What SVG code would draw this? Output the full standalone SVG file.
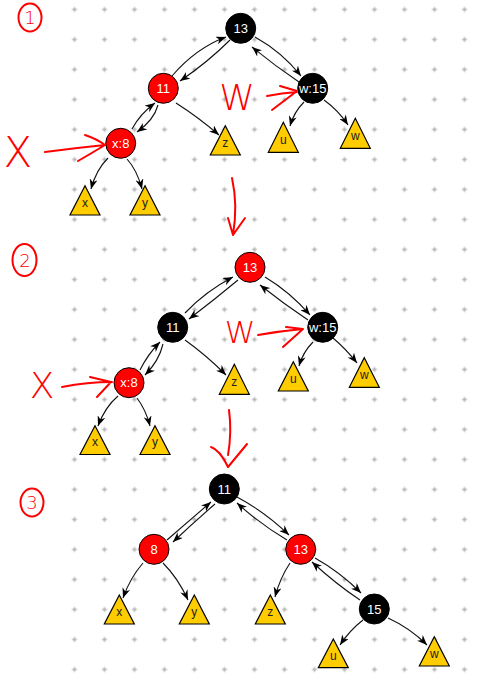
<svg xmlns="http://www.w3.org/2000/svg" width="490" height="688" viewBox="0 0 490 688">
<style>
.edge{fill:none;stroke:#111;stroke-width:1.1;marker-end:url(#ah)}
.rb{fill:#FF0000;stroke:#000;stroke-width:1}
.bk{fill:#000;stroke:#000;stroke-width:1}
.tri{fill:#FFCC00;stroke:#000;stroke-width:1.2}
.nl{font-family:"Liberation Sans",Arial,sans-serif;font-size:13px;fill:#fff;text-anchor:middle}
.tl{font-family:"Liberation Sans",Arial,sans-serif;font-size:12px;fill:#222;text-anchor:middle}
.hw{fill:none;stroke:#FF0000;stroke-width:2;stroke-linecap:round;stroke-linejoin:round}
.ht{font-family:"DejaVu Sans","Liberation Sans",sans-serif;font-weight:200;fill:#FF0000;text-anchor:middle}
</style>
<defs>
<pattern id="grid" x="59.5" y="-5.5" width="30" height="30" patternUnits="userSpaceOnUse">
<path d="M12.5,15 H17.5 M15,12.5 V17.5" stroke="#999" stroke-width="1"/>
</pattern>
<marker id="ah" viewBox="0 0 10 8" refX="10" refY="4" markerWidth="10" markerHeight="8" markerUnits="userSpaceOnUse" orient="auto">
<path d="M0,0 L10,4 L0,8 L3,4 z" fill="#000"/>
</marker>
</defs>
<rect width="490" height="688" fill="#fff"/>
<rect x="59.5" y="-5.5" width="420" height="690" fill="url(#grid)"/>

<g id="connectors">
<!-- diagram 1 -->
<path class="edge" d="M172,76 Q196,48 226,37"/>
<path class="edge" d="M230,40 Q208,62 180,81"/>
<path class="edge" d="M132,129 Q140,114 155,103"/>
<path class="edge" d="M158,105 Q154,120 137,132"/>
<path class="edge" d="M176,103 Q198,117 219,135"/>
<path class="edge" d="M108,158 Q96,170 91,189"/>
<path class="edge" d="M127,159 Q137,170 142,189"/>
<path class="edge" d="M255,37 Q282,52 301,76"/>
<path class="edge" d="M299,82 Q275,66 252,47"/>
<path class="edge" d="M304,102 Q294,112 290,126"/>
<path class="edge" d="M324,100 Q338,110 348,125"/>
<!-- diagram 2 -->
<path class="edge" d="M185,313 Q206,291 233,277"/>
<path class="edge" d="M238,280 Q214,300 189,319"/>
<path class="edge" d="M140,370 Q148,354 160,342"/>
<path class="edge" d="M163,344 Q159,361 145,375"/>
<path class="edge" d="M185,340 Q206,355 226,375"/>
<path class="edge" d="M118,396 Q105,407 98,426"/>
<path class="edge" d="M137,398 Q146,410 150,426"/>
<path class="edge" d="M265,277 Q290,292 310,315"/>
<path class="edge" d="M308,320 Q284,304 260,285"/>
<path class="edge" d="M313,342 Q303,352 299,366"/>
<path class="edge" d="M333,338 Q346,349 357,363"/>
<!-- diagram 3 -->
<path class="edge" d="M167,540 Q190,520 211,502"/>
<path class="edge" d="M215,504 Q193,523 173,542"/>
<path class="edge" d="M143,563 Q130,578 123,598"/>
<path class="edge" d="M163,563 Q178,578 188,600"/>
<path class="edge" d="M237,497 Q265,512 289,535"/>
<path class="edge" d="M287,540 Q260,524 237,503"/>
<path class="edge" d="M290,563 Q280,578 275,597"/>
<path class="edge" d="M315,558 Q340,572 361,593"/>
<path class="edge" d="M360,600 Q336,584 312,562"/>
<path class="edge" d="M363,620 Q350,630 340,645"/>
<path class="edge" d="M388,618 Q410,628 427,645"/>
</g>

<!-- diagram 1 nodes -->
<g id="d1-n13"><circle class="bk" cx="240.7" cy="28.3" r="15"/><text class="nl" x="240.7" y="33">13</text></g>
<g id="d1-n11"><circle class="rb" cx="163.3" cy="88.3" r="15"/><text class="nl" x="163.3" y="93">11</text></g>
<g id="d1-x8"><circle class="rb" cx="120.7" cy="143.3" r="15"/><text class="nl" x="120.7" y="148">x:8</text></g>
<g id="d1-w15"><circle class="bk" cx="312.7" cy="88.3" r="15"/><text class="nl" x="312.7" y="93">w:15</text></g>
<g id="d1-tz"><polygon class="tri" points="225.3,125.7 240.3,155 210.3,155"/><text class="tl" x="225.3" y="147">z</text></g>
<g id="d1-tx"><polygon class="tri" points="85,185.7 100,215 70,215"/><text class="tl" x="85" y="207">x</text></g>
<g id="d1-ty"><polygon class="tri" points="145,185.7 160,215 130,215"/><text class="tl" x="145" y="207">y</text></g>
<g id="d1-tu"><polygon class="tri" points="283.3,122.3 298.3,152.3 268.3,152.3"/><text class="tl" x="283.3" y="144">u</text></g>
<g id="d1-tw"><polygon class="tri" points="355.3,118.3 370.3,148.3 340.3,148.3"/><text class="tl" x="355.3" y="140">w</text></g>

<!-- diagram 2 nodes -->
<g id="d2-n13"><circle class="rb" cx="250" cy="267.3" r="15"/><text class="nl" x="250" y="272">13</text></g>
<g id="d2-n11"><circle class="bk" cx="172.7" cy="327.3" r="15"/><text class="nl" x="172.7" y="332">11</text></g>
<g id="d2-x8"><circle class="rb" cx="129" cy="382.7" r="15"/><text class="nl" x="129" y="387.4">x:8</text></g>
<g id="d2-w15"><circle class="bk" cx="322.7" cy="327.3" r="15"/><text class="nl" x="322.7" y="332">w:15</text></g>
<g id="d2-tz"><polygon class="tri" points="234.3,364.3 249.3,394.3 219.3,394.3"/><text class="tl" x="234.3" y="386">z</text></g>
<g id="d2-tx"><polygon class="tri" points="95,425.7 110,454.5 80,454.5"/><text class="tl" x="95" y="446">x</text></g>
<g id="d2-ty"><polygon class="tri" points="155,425.7 170,454.5 140,454.5"/><text class="tl" x="155" y="446">y</text></g>
<g id="d2-tu"><polygon class="tri" points="293.3,361.7 308.3,391 278.3,391"/><text class="tl" x="293.3" y="383">u</text></g>
<g id="d2-tw"><polygon class="tri" points="364.3,357.7 379.3,387.3 349.3,387.3"/><text class="tl" x="364.3" y="379">w</text></g>

<!-- diagram 3 nodes -->
<g id="d3-n11"><circle class="bk" cx="224.3" cy="489" r="15"/><text class="nl" x="224.3" y="493.7">11</text></g>
<g id="d3-n8"><circle class="rb" cx="154" cy="549.3" r="15"/><text class="nl" x="154" y="554">8</text></g>
<g id="d3-n13"><circle class="rb" cx="300.7" cy="549.3" r="15"/><text class="nl" x="300.7" y="554">13</text></g>
<g id="d3-n15"><circle class="bk" cx="374.3" cy="609" r="15"/><text class="nl" x="374.3" y="613.7">15</text></g>
<g id="d3-tx"><polygon class="tri" points="119.3,595 134.3,624 104.3,624"/><text class="tl" x="119.3" y="615.5">x</text></g>
<g id="d3-ty"><polygon class="tri" points="194.3,595 209.3,624 179.3,624"/><text class="tl" x="194.3" y="615.5">y</text></g>
<g id="d3-tz"><polygon class="tri" points="270.3,595 285.3,624 255.3,624"/><text class="tl" x="270.3" y="615.5">z</text></g>
<g id="d3-tu"><polygon class="tri" points="333.3,639 348.3,667.7 318.3,667.7"/><text class="tl" x="333.3" y="660">u</text></g>
<g id="d3-tw"><polygon class="tri" points="434.3,636.7 449.3,666 419.3,666"/><text class="tl" x="434.3" y="658">w</text></g>

<!-- handwritten annotations -->
<g id="annotations">
<ellipse class="hw" cx="30" cy="17.5" rx="11.5" ry="14"/>
<text class="ht" x="30" y="24" font-size="18">1</text>
<ellipse class="hw" cx="24.5" cy="260" rx="12" ry="16"/>
<text class="ht" x="25" y="267" font-size="18">2</text>
<ellipse class="hw" cx="32" cy="502.5" rx="11.5" ry="14"/>
<text class="ht" x="32" y="509" font-size="18">3</text>

<text class="ht" x="18" y="167" font-size="42">X</text>
<path class="hw" d="M45,152 Q75,148 105,145 M85,135 Q97,139 105,145 Q92,153 78,161"/>
<text class="ht" x="237" y="110" font-size="36">W</text>
<path class="hw" d="M267,96 Q282,93 297,92 M280,86 L297,91 L272,110"/>
<path class="hw" d="M232,178 Q238,205 233,235 M228,218 L233,235 L245,218"/>

<text class="ht" x="42" y="398" font-size="36">X</text>
<path class="hw" d="M62,387 Q87,382 112,382 M90,377 L111,382 L97,397"/>
<text class="ht" x="240" y="343" font-size="31">W</text>
<path class="hw" d="M258,335 Q280,331 303,329 M286,327 L303,329 L283,347"/>
<path class="hw" d="M229,410 Q232,432 228,455 M211,447 Q220,450 228,467 L247,444"/>
</g>
</svg>
